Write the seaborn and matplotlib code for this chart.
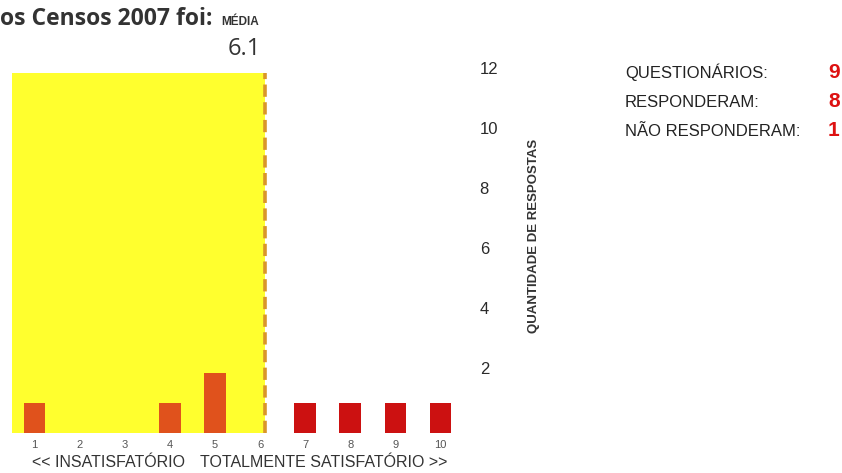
import matplotlib
matplotlib.use("Agg")
import matplotlib.pyplot as plt
import matplotlib.transforms as mtransforms
import seaborn as sns
import pandas as pd

# notas 1..10 e quantidade de respostas
notas = [1, 2, 3, 4, 5, 6, 7, 8, 9, 10]
respostas = [1, 0, 0, 1, 2, 0, 1, 1, 1, 1]
grupo = ["baixo"] * 6 + ["alto"] * 4
media = 6.1
resumo_rotulos = ["QUESTIONÁRIOS:", "RESPONDERAM:", "NÃO RESPONDERAM:"]
resumo_valores = [9, 8, 1]

df = pd.DataFrame({"nota": notas, "respostas": respostas, "grupo": grupo})

sns.set_style("white")
plt.rcParams["font.family"] = ["Liberation Sans", "DejaVu Sans"]

fig = plt.figure(figsize=(8.42, 4.73), dpi=100)
ax = fig.add_axes([12 / 842, 40 / 473, 451 / 842, 360 / 473])

# faixa amarela até a média
ax.axvspan(0.5, media, color="#FFFF2E", lw=0, zorder=0)

sns.barplot(data=df, x="nota", y="respostas", hue="grupo", native_scale=True,
            palette={"baixo": "#E0521C", "alto": "#CC1111"}, width=0.48,
            saturation=1, linewidth=0, dodge=False, legend=False, ax=ax,
            zorder=2)

ax.axvline(media, color="#D9962A", lw=2.6, ls=(0, (3.4, 1.5)), zorder=3)

ax.set_xlim(0.5, 10.5)
ax.set_ylim(0, 12)
ax.set_xticks(notas)
ax.set_xticklabels([str(n) for n in notas], fontsize=8, color="#555555")
ax.yaxis.tick_right()
ax.set_yticks([2, 4, 6, 8, 10, 12])
ax.set_yticklabels(["2", "4", "6", "8", "10", "12"], fontsize=12, color="#2a2a2a")
ax.tick_params(axis="y", length=0, pad=12)
ax.tick_params(axis="x", length=0, pad=5)
# rótulos do eixo y ficam um pouco acima da linha
desloc = mtransforms.ScaledTranslation(0, 5 / 100, fig.dpi_scale_trans)
for lbl in ax.get_yticklabels():
    lbl.set_transform(lbl.get_transform() + desloc)
ax.set_xlabel("")
ax.set_ylabel("")
for s in ax.spines.values():
    s.set_visible(False)

fig.text(534 / 842, 1 - 236 / 473, "QUANTIDADE DE RESPOSTAS", rotation=90,
         fontsize=9.5, fontweight="bold", color="#333333", ha="center",
         va="center")
fig.text(32 / 842, 1 - 467 / 473, "<< INSATISFATÓRIO",
         fontsize=11.5, color="#333333", va="baseline")
fig.text(200 / 842, 1 - 467 / 473, "TOTALMENTE SATISFATÓRIO >>",
         fontsize=11.5, color="#333333", va="baseline")

# título recortado
fig.text(0, 1 - 25 / 473, "os Censos 2007 foi:", fontsize=16.5,
         fontweight="bold", family="Open Sans", color="#333333", va="baseline")
fig.text(221 / 842, 1 - 25 / 473, "MÉDIA", fontsize=8.5, fontweight="bold",
         color="#333333", va="baseline")
fig.text(261 / 842, 1 - 55 / 473, f"{media:.1f}", fontsize=17,
         family="Open Sans", color="#333333", ha="right", va="baseline")

for i, (rot, val) in enumerate(zip(resumo_rotulos, resumo_valores)):
    y = 1 - (78 + i * 29) / 473
    fig.text(625 / 842, y, rot, fontsize=12, color="#222222", va="baseline")
    fig.text(828 / 842, y, str(val), fontsize=15, fontweight="bold",
             color="#DD1111", va="baseline")

fig.savefig("out.png", dpi=100)
